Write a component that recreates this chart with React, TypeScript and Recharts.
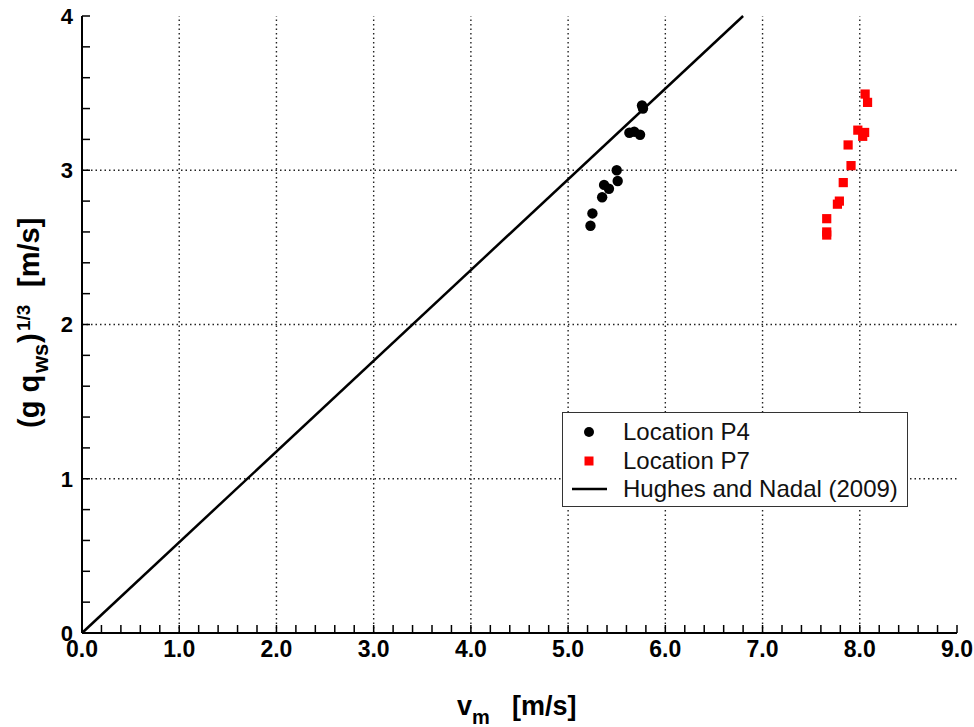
import React from "react";
import {
  ScatterChart,
  Scatter,
  XAxis,
  YAxis,
  ReferenceLine,
  Legend,
} from "recharts";

// ---- data ----
const p4X = [5.23, 5.25, 5.35, 5.37, 5.42, 5.51, 5.5, 5.63, 5.68, 5.74, 5.76, 5.77];
const p4Y = [2.64, 2.72, 2.825, 2.905, 2.88, 2.93, 3.0, 3.243, 3.25, 3.23, 3.42, 3.4];
const p7X = [8.055, 8.08, 7.98, 8.05, 8.03, 7.88, 7.91, 7.83, 7.79, 7.77, 7.66, 7.66, 7.66];
const p7Y = [3.494, 3.44, 3.26, 3.245, 3.22, 3.164, 3.03, 2.92, 2.8, 2.78, 2.686, 2.6, 2.58];
const lineX = [0, 6.8];
const lineY = [0, 4];

const xTicks = Array.from({ length: 46 }, (_, i) => Math.round(i * 2) / 10);
const yTicks = Array.from({ length: 21 }, (_, i) => Math.round(i * 2) / 10);
const gridX = [1, 2, 3, 4, 5, 6, 7, 8];
const gridY = [1, 2, 3];
const legendNames = ["Location P4", "Location P7", "Hughes and Nadal (2009)"];

const p4 = p4X.map((x, i) => ({ x, y: p4Y[i] }));
const p7 = p7X.map((x, i) => ({ x, y: p7Y[i] }));
const hn = lineX.map((x, i) => ({ x, y: lineY[i] }));

const FONT = "'Liberation Sans', Arial, Helvetica, sans-serif";

const isInt = (v: number) => Math.abs(v - Math.round(v)) < 1e-6;

const Circle = (props: any) => (
  <circle cx={props.cx} cy={props.cy} r={5.2} fill="#000" />
);
const Square = (props: any) => (
  <rect x={props.cx - 4.6} y={props.cy - 4.6} width={9.2} height={9.2} fill="#ff0000" />
);
const NoShape = () => <g />;

const XTitle = () => (
  <text x={457} y={715} fontFamily={FONT} fontWeight="bold" fontSize={27} fill="#000">
    v
    <tspan dy={9} fontSize={20}>m</tspan>
    <tspan dy={-9} x={512}>[m/s]</tspan>
  </text>
);

const YTitle = () => (
  <text
    transform="translate(39, 428) rotate(-90)"
    x={0}
    y={0}
    fontFamily={FONT}
    fontWeight="bold"
    fontSize={29}
    fill="#000"
  >
    <tspan x={0}>(g q</tspan>
    <tspan x={55} dy={9} fontSize={22}>ws</tspan>
    <tspan x={85} dy={-9}>)</tspan>
    <tspan x={97} dy={-9} fontSize={19}>1/3</tspan>
    <tspan x={141} dy={9}>[m/s]</tspan>
  </text>
);

const LegendBox = () => (
  <div
    style={{
      width: 346,
      height: 95,
      border: "1.5px solid #333",
      background: "#fff",
      fontFamily: FONT,
      fontSize: 24,
      color: "#111",
      boxSizing: "border-box",
      position: "relative",
    }}
  >
    {legendNames.map((n, i) => (
      <div
        key={n}
        style={{
          position: "absolute",
          left: 0,
          top: 5 + i * 28.5,
          height: 28,
          display: "flex",
          alignItems: "center",
          whiteSpace: "nowrap",
        }}
      >
        <svg width={60} height={28} style={{ display: "block" }}>
          {i === 0 && <circle cx={26} cy={14} r={5} fill="#000" />}
          {i === 1 && <rect x={21.5} y={9.5} width={9} height={9} fill="#ff0000" />}
          {i === 2 && <line x1={9} x2={44} y1={14} y2={14} stroke="#000" strokeWidth={2.5} />}
        </svg>
        <span>{n}</span>
      </div>
    ))}
  </div>
);

export default function App() {
  const xTickStyle = { fill: "#000", fontSize: 23, fontWeight: "bold", fontFamily: FONT } as any;
  const yTickStyle = { fill: "#000", fontSize: 22, fontWeight: "bold", fontFamily: FONT } as any;
  return (
    <div style={{ position: "absolute", left: 0, top: 0, background: "#fff" }}>
      <ScatterChart
        width={974}
        height={727}
        margin={{ top: 16, right: 17, left: 0, bottom: 0 }}
      >
        <XAxis
          xAxisId={0}
          type="number"
          dataKey="x"
          domain={[0, 9]}
          ticks={xTicks}
          interval={0}
          height={94}
          tickSize={-8}
          tickMargin={16}
          tickFormatter={(v: number) => (isInt(v) ? v.toFixed(1) : "")}
          tick={xTickStyle}
          axisLine={{ stroke: "#000", strokeWidth: 2 }}
          tickLine={{ stroke: "#000", strokeWidth: 1.5 }}
          label={{ content: () => <XTitle /> }}
        />
        <XAxis
          xAxisId="top"
          orientation="top"
          type="number"
          dataKey="x"
          domain={[0, 9]}
          ticks={xTicks}
          interval={0}
          height={0}
          tickSize={-8}
          tick={false}
          axisLine={{ stroke: "#000", strokeWidth: 2 }}
          tickLine={{ stroke: "#000", strokeWidth: 1.5 }}
        />
        <YAxis
          yAxisId={0}
          type="number"
          dataKey="y"
          domain={[0, 4]}
          ticks={yTicks}
          interval={0}
          width={82}
          tickSize={-8}
          tickMargin={17}
          tickFormatter={(v: number) => (isInt(v) ? String(Math.round(v)) : "")}
          tick={yTickStyle}
          axisLine={{ stroke: "#000", strokeWidth: 2 }}
          tickLine={{ stroke: "#000", strokeWidth: 1.5 }}
          label={{ content: () => <YTitle /> }}
        />
        <YAxis
          yAxisId="right"
          orientation="right"
          type="number"
          dataKey="y"
          domain={[0, 4]}
          ticks={yTicks}
          interval={0}
          width={0}
          tickSize={-8}
          tick={false}
          axisLine={{ stroke: "#000", strokeWidth: 2 }}
          tickLine={{ stroke: "#000", strokeWidth: 1.5 }}
        />
        {gridX.map((g) => (
          <ReferenceLine
            key={"gx" + g}
            x={g}
            xAxisId={0}
            yAxisId={0}
            stroke="#222"
            strokeWidth={1.4}
            strokeDasharray="1.5 3"
          />
        ))}
        {gridY.map((g) => (
          <ReferenceLine
            key={"gy" + g}
            y={g}
            xAxisId={0}
            yAxisId={0}
            stroke="#222"
            strokeWidth={1.4}
            strokeDasharray="1.5 3"
          />
        ))}
        <Scatter
          name={legendNames[2]}
          data={hn}
          xAxisId={0}
          yAxisId={0}
          line={{ stroke: "#000", strokeWidth: 2.5 }}
          shape={NoShape}
          isAnimationActive={false}
        />
        <Scatter
          name={legendNames[0]}
          data={p4}
          xAxisId={0}
          yAxisId={0}
          shape={Circle}
          isAnimationActive={false}
        />
        <Scatter
          name={legendNames[1]}
          data={p7}
          xAxisId={0}
          yAxisId={0}
          shape={Square}
          isAnimationActive={false}
        />
        <Legend
          layout="vertical"
          align="center"
          verticalAlign="middle"
          content={() => <LegendBox />}
          wrapperStyle={{ position: "absolute", left: 562, top: 412, width: 346 }}
        />
      </ScatterChart>
    </div>
  );
}
